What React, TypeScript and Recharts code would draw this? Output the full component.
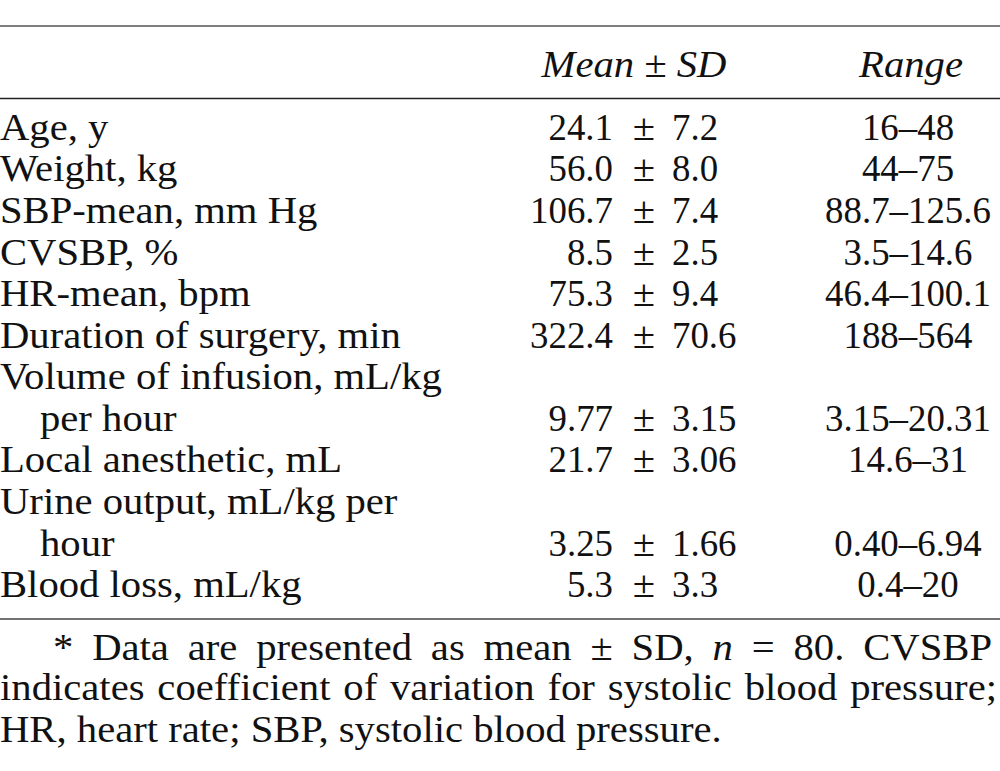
import { BarChart, Bar, XAxis, YAxis, Customized } from 'recharts'

// rows of the table (continuation lines have no values)
const labels = [
  'Age, y',
  'Weight, kg',
  'SBP-mean, mm Hg',
  'CVSBP, %',
  'HR-mean, bpm',
  'Duration of surgery, min',
  'Volume of infusion, mL/kg',
  'per hour',
  'Local anesthetic, mL',
  'Urine output, mL/kg per',
  'hour',
  'Blood loss, mL/kg',
]
const meanText = ['24.1', '56.0', '106.7', '8.5', '75.3', '322.4', '', '9.77', '21.7', '', '3.25', '5.3']
const sdText = ['7.2', '8.0', '7.4', '2.5', '9.4', '70.6', '', '3.15', '3.06', '', '1.66', '3.3']
const rangeText = [
  '16–48',
  '44–75',
  '88.7–125.6',
  '3.5–14.6',
  '46.4–100.1',
  '188–564',
  '',
  '3.15–20.31',
  '14.6–31',
  '',
  '0.40–6.94',
  '0.4–20',
]
const headers = ['Mean ± SD', 'Range']

const FONT = '"Liberation Serif", "Times New Roman", Times, serif'
const FS = 38
const SX = 1.07 // letters in the scan are a bit wide
const SXN = 0.97 // figures are narrower
const INK = '#111'

const rows = labels.map((label, i) => ({
  label,
  mean: meanText[i],
  sd: sdText[i],
  range: rangeText[i],
  value: meanText[i] ? parseFloat(meanText[i]) : 0,
  indent: i > 0 && meanText[i] !== '' && meanText[i - 1] === '',
}))

const Txt = ({ x, y, anchor = 'start', italic = false, sx = SX, children }: any) => (
  <text
    transform={`translate(${x},${y}) scale(${sx},1)`}
    textAnchor={anchor}
    fontStyle={italic ? 'italic' : 'normal'}
    fontFamily={FONT}
    fontSize={FS}
    fill={INK}
  >
    {children}
  </text>
)

const RowTick = (props: any) => {
  const { y, payload } = props
  const value = payload?.value
  const row = rows.find((r) => r.label === value) ?? rows[payload?.index ?? props.index]
  if (!row) return null
  const by = Number(y) + 13
  return (
    <g>
      <Txt x={row.indent ? 40 : 0} y={by}>{row.label}</Txt>
      {row.mean && (
        <>
          <Txt x={613} y={by} anchor="end" sx={SXN}>{row.mean}</Txt>
          <Txt x={644} y={by} anchor="middle">±</Txt>
          <Txt x={672} y={by} sx={SXN}>{row.sd}</Txt>
          <Txt x={908} y={by} anchor="middle" sx={SXN}>{row.range}</Txt>
        </>
      )}
    </g>
  )
}

const Frame = () => (
  <g>
    <line x1={0} x2={1000} y1={26} y2={26} stroke="#555" strokeWidth={1.5} />
    <line x1={0} x2={1000} y1={98.5} y2={98.5} stroke="#222" strokeWidth={1.5} />
    <line x1={0} x2={1000} y1={619} y2={619} stroke="#444" strokeWidth={1.5} />
    <Txt x={634} y={77} anchor="middle" italic>{headers[0]}</Txt>
    <Txt x={911} y={77} anchor="middle" italic>{headers[1]}</Txt>
  </g>
)

const lineStyle = {
  position: 'absolute' as const,
  transform: `scaleX(${SX})`,
  transformOrigin: '0 0',
  fontFamily: FONT,
  fontSize: FS,
  lineHeight: '41px',
  color: INK,
}

export default function App() {
  return (
    <div style={{ position: 'absolute', left: 0, top: 0, width: 1000, height: 771, background: '#fff' }}>
      <BarChart
        layout="vertical"
        width={1000}
        height={771}
        data={rows}
        margin={{ top: 106, right: 0, bottom: 166, left: 0 }}
      >
        <XAxis type="number" hide domain={[0, 400]} />
        <YAxis
          type="category"
          dataKey="label"
          width={2}
          interval={0}
          axisLine={false}
          tickLine={false}
          tick={<RowTick />}
        />
        <Bar dataKey="value" fill="transparent" isAnimationActive={false} />
        <Customized component={<Frame />} />
      </BarChart>
      <div style={{ ...lineStyle, left: 53, top: 627, width: 939 / SX, textAlign: 'justify', textAlignLast: 'justify' }}>
        * Data are presented as mean ± SD, <i>n</i> = 80. CVSBP
      </div>
      <div style={{ ...lineStyle, left: 0, top: 667, width: 997 / SX, textAlign: 'justify', textAlignLast: 'justify' }}>
        indicates coefficient of variation for systolic blood pressure;
      </div>
      <div style={{ ...lineStyle, left: 0, top: 709, width: 997 / SX }}>
        HR, heart rate; SBP, systolic blood pressure.
      </div>
    </div>
  )
}
